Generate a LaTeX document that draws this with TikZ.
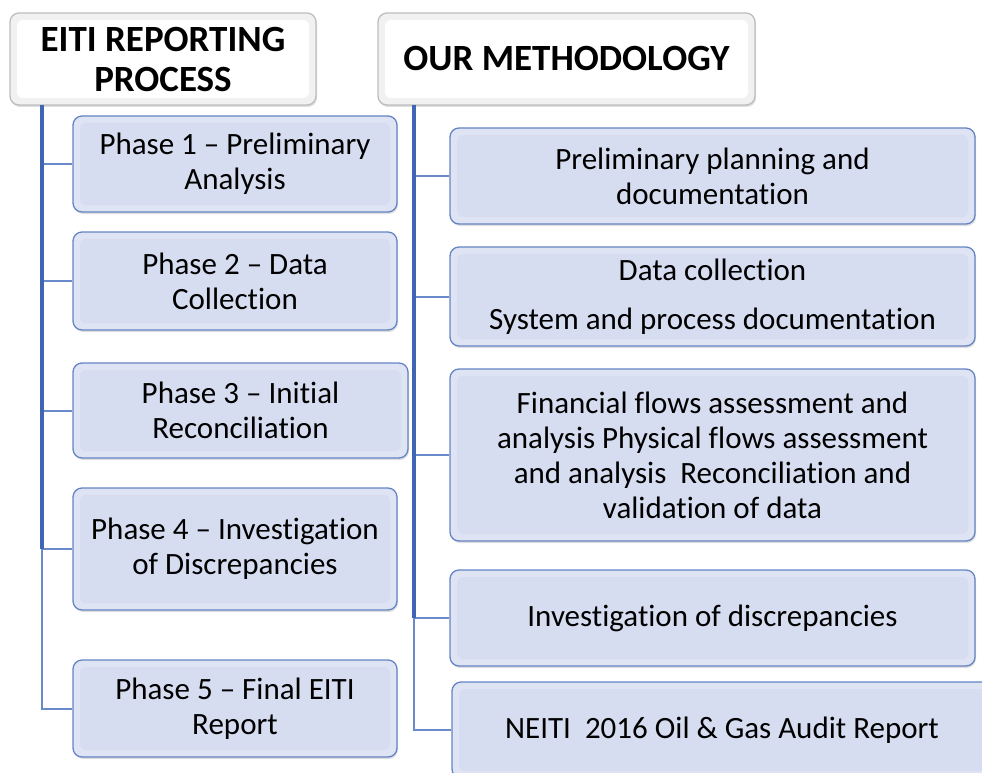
\documentclass[tikz,border=0pt]{standalone}
\usepackage{fontspec}
\setmainfont{Carlito}[Ligatures={NoCommon,NoContextual}, RawFeature={-liga,-clig,-calt,-dlig}]
\usetikzlibrary{shadows}

\definecolor{boxfill}{HTML}{D7DDF0}
\definecolor{boxrim}{HTML}{DFE4F4}
\definecolor{boxline}{HTML}{6484C4}
\definecolor{hdrrim}{HTML}{F1F1F1}
\definecolor{hdrline}{HTML}{BDBDBD}
\definecolor{spineblue}{HTML}{3E66B4}
\definecolor{branchblue}{HTML}{6A8ACA}

\tikzset{
  x=1pt, y=-1pt,
  card/.style={rounded corners=9pt, align=center, inner sep=0pt, line width=1.3pt,
    drop shadow={shadow xshift=1pt, shadow yshift=-2pt, opacity=0.25}},
  phase/.style={card, draw=boxline, fill=boxrim,
    font=\fontsize{31}{35}\selectfont,
    path picture={\fill[boxfill, rounded corners=6pt]
      ([shift={(7pt,7pt)}]path picture bounding box.south west) rectangle
      ([shift={(-7pt,-7pt)}]path picture bounding box.north east);}},
  header/.style={card, draw=hdrline, fill=hdrrim,
    font=\fontsize{37}{40}\selectfont\bfseries,
    path picture={\fill[white, rounded corners=6pt]
      ([shift={(7pt,7pt)}]path picture bounding box.south west) rectangle
      ([shift={(-7pt,-7pt)}]path picture bounding box.north east);}},
  branch/.style={draw=branchblue, line width=2pt},
  spine/.style={draw=spineblue, line width=3.5pt},
}

\begin{document}
\begin{tikzpicture}
\useasboundingbox (0,0) rectangle (982,773);
\clip (0,0) rectangle (982,773);

% headers
\node[header, minimum width=306pt, minimum height=92pt] (lh) at (163,59)
  {EITI REPORTING\\PROCESS};
\node[header, minimum width=377pt, minimum height=92pt] (rh) at (566.5,59)
  {OUR METHODOLOGY};

% left column: reporting phases
\node[phase, minimum width=324pt, minimum height=96pt] (p1) at (235,164)
  {Phase 1 -- Preliminary\\Analysis};
\node[phase, minimum width=324pt, minimum height=98pt] (p2) at (235,281)
  {Phase 2 -- Data\\Collection};
\node[phase, minimum width=335pt, minimum height=95pt] (p3) at (240.5,410.5)
  {Phase 3 -- Initial\\Reconciliation};
\node[phase, minimum width=324pt, minimum height=122pt] (p4) at (235,549)
  {Phase 4 -- Investigation\\of Discrepancies};
\node[phase, minimum width=324pt, minimum height=97pt] (p5) at (235,708.5)
  {Phase 5 -- Final EITI\\Report};

% right column: methodology steps
\node[phase, minimum width=525pt, minimum height=96pt] (m1) at (712.5,176)
  {Preliminary planning and\\documentation};
\node[phase, minimum width=525pt, minimum height=99pt] (m2) at (712.5,296.5)
  {Data collection\\[14pt]System and process documentation};
\node[phase, minimum width=525pt, minimum height=172pt] (m3) at (712.5,455)
  {Financial flows assessment and\\analysis Physical flows assessment\\and analysis\ \ Reconciliation and\\validation of data};
\node[phase, minimum width=525pt, minimum height=96pt] (m4) at (712.5,618)
  {Investigation of discrepancies};
\node[phase, minimum width=540pt, minimum height=96pt] (m5) at (722,730)
  {NEITI\ \ 2016 Oil \& Gas Audit Report};

% connectors: elbow from each header root to every child
\coordinate (lroot) at (42,105);
\coordinate (rroot) at (414,105);
\foreach \n in {p1,p2,p3,p4,p5}
  \draw[branch] (lroot) |- (\n.west);
\foreach \n in {m1,m2,m3,m4,m5}
  \draw[branch] (rroot) |- (\n.west);
% shared trunk of the connectors
\draw[spine] (lroot) -- (lroot |- p4.west);
\draw[spine] (rroot) -- (rroot |- m4.west);
\end{tikzpicture}
\end{document}
